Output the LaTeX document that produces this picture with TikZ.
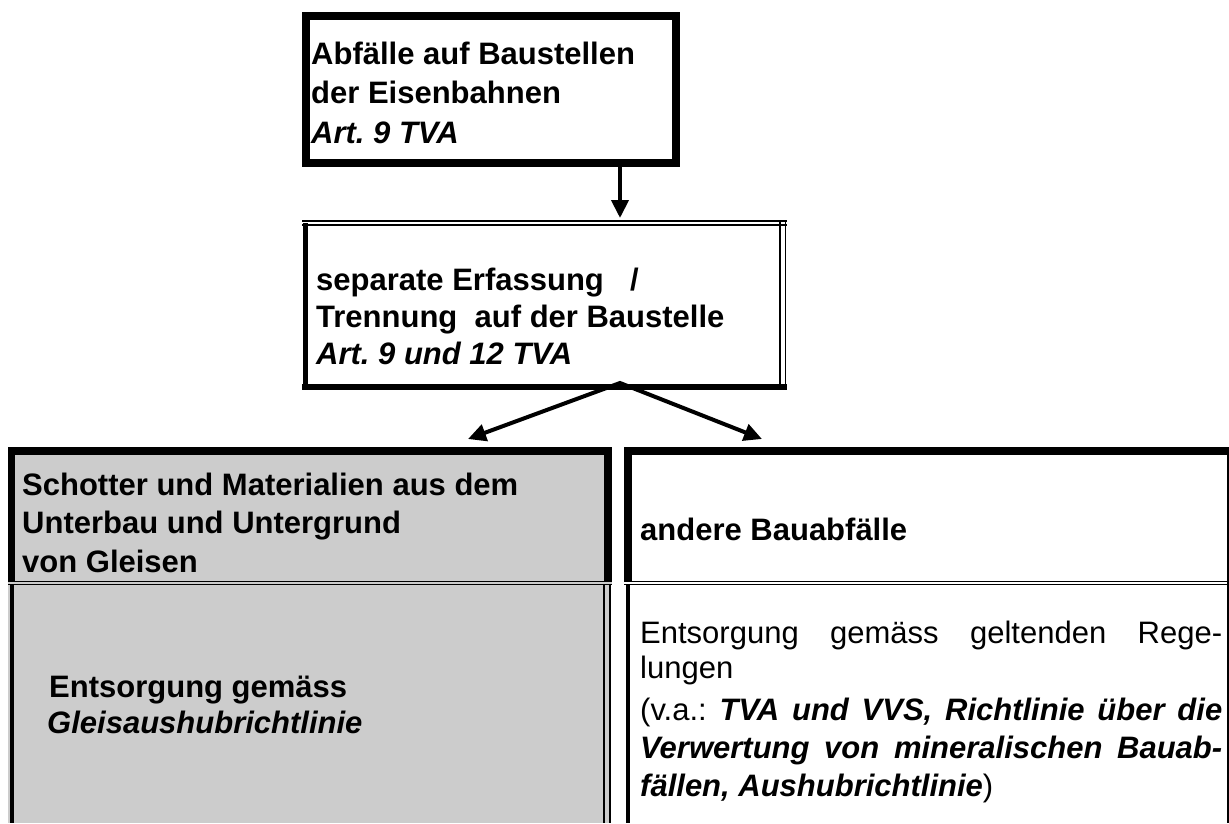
\documentclass[tikz,border=0pt]{standalone}
\usepackage{fontspec}
\setmainfont{Liberation Sans}
\usetikzlibrary{arrows.meta}
\definecolor{cellgray}{RGB}{204,204,204}
\tikzset{ahead/.tip={Triangle[width=17pt,length=18pt]}}
\frenchspacing
\begin{document}
\begin{tikzpicture}[x=1pt,y=-1pt,
  txt/.style={anchor=base west,inner sep=0pt,font=\fontsize{31}{37}\selectfont\frenchspacing\bfseries},
  rtxt/.style={anchor=base west,inner sep=0pt,font=\fontsize{31}{37}\selectfont\frenchspacing},
  cell/.style={anchor=north west,inner sep=0pt,outer sep=0pt},
  arr/.style={line width=4pt,line join=miter}]
\useasboundingbox (0,0) rectangle (1229,823);

% bottom cells
\node[cell,fill=cellgray,minimum width=604pt,minimum height=138pt] (lh) at (8,447) {};
\node[cell,fill=cellgray,minimum width=603pt,minimum height=238pt] (ll) at (8,585) {};
\node[cell,minimum width=605pt,minimum height=138pt] (rh) at (624,447) {};
\node[cell,minimum width=605pt,minimum height=238pt] (rl) at (624,585) {};

% left cell borders
\draw[line width=8pt] (8,451) -- (612,451);
\draw[line width=7pt] (11.5,447) -- (11.5,582);
\draw[line width=8pt] (608,447) -- (608,582);
\draw[line width=1.5pt] (8,581.5) -- (612,581.5) (8,584.5) -- (612,584.5);
\draw[line width=4pt] (11.5,584) -- (11.5,823);
\draw[line width=2pt] (604,584) -- (604,823) (609.5,584) -- (609.5,823);

% right cell borders
\draw[line width=8pt] (624,451) -- (1229,451);
\draw[line width=8pt] (628,447) -- (628,582);
\draw[line width=2pt] (1228,447) -- (1228,823);
\draw[line width=1.5pt] (624,581.5) -- (1229,581.5) (624,584.5) -- (1229,584.5);
\draw[line width=4pt] (628,584) -- (628,823);

% top box
\node[draw,line width=8pt,minimum width=370pt,minimum height=147pt,inner sep=0pt] (top) at (491,89.5) {};

% second box
\node[cell,minimum width=485pt,minimum height=170pt] (sep) at (302,220) {};
\draw[line width=1.5pt] (302,221) -- (787,221);
\draw[line width=2.5pt] (302,225) -- (787,225);
\draw[line width=5pt] (305.5,223) -- (305.5,390);
\draw[line width=6pt] (302,387) -- (787,387);
\draw[line width=1.5pt] (780,221) -- (780,390) (785.5,221) -- (785.5,390);

% connectors
\coordinate (ax) at (620,0);
\coordinate (apex) at (620,383);
\coordinate (tipL) at (468,439);
\coordinate (tipR) at (762,439);
\draw[arr,-ahead,shorten >=2pt] (top.south -| ax) -- (sep.north -| ax);
\draw[arr,ahead-ahead] (tipL) -- (apex) -- (tipR);

% texts
\node[txt] (t1) at (311,64) {Abfälle auf Baustellen};
\node[txt] (t2) at (311,103) {der Eisenbahnen};
\node[txt] (t3) at (311,143) {\itshape Art. 9 TVA};

\node[txt] (s1) at (316,290) {\makebox[314pt][l]{separate Erfassung}/};
\node[txt] (s2) at (316,327) {Trennung\ \ auf der Baustelle};
\node[txt] (s3) at (316,364) {\itshape Art. 9 und 12 TVA};

\node[txt] (l1) at (22,495) {Schotter und Materialien aus dem};
\node[txt] (l2) at (22,533) {Unterbau und Untergrund};
\node[txt] (l3) at (22,572) {von Gleisen};

\node[txt] (l4) at (49,697) {Entsorgung gemäss};
\node[txt] (l5) at (47,733) {\itshape Gleisaushubrichtlinie};

\node[txt] (rh1) at (640,540) {andere Bauabfälle};

\node[rtxt] (r1) at (640,643) {\makebox[582pt][s]{Entsorgung gemäss geltenden Rege-}};
\node[rtxt] (r2) at (640,678) {lungen};
\node[rtxt] (r3) at (640,720) {\makebox[582pt][s]{(v.a.: \bfseries\itshape TVA und VVS, Richtlinie über die}};
\node[rtxt] (r4) at (640,758) {\makebox[582pt][s]{\bfseries\itshape Verwertung von mineralischen Bauab-}};
\node[rtxt] (r5) at (640,796) {\textbf{\textit{fällen, Aushubrichtlinie}})};
\end{tikzpicture}
\end{document}
